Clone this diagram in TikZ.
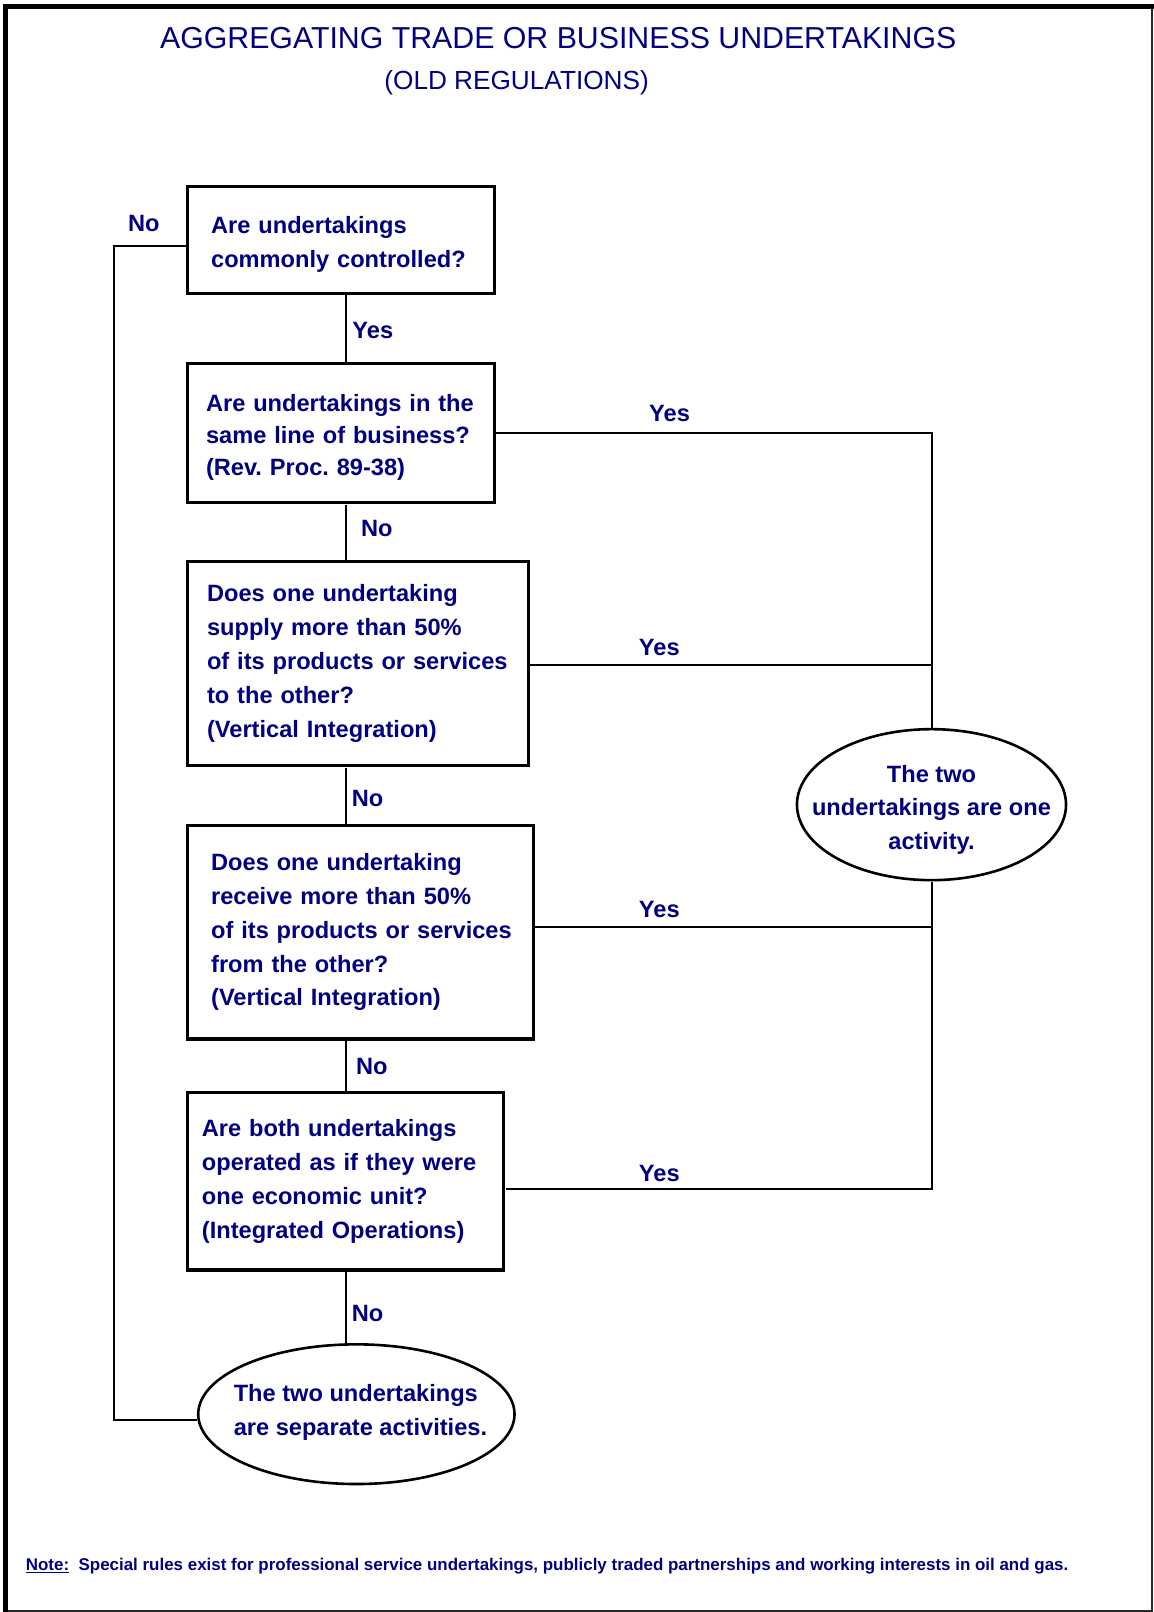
\documentclass[tikz,border=0pt]{standalone}
\usepackage{fontspec}
\setmainfont{Liberation Sans}
\usetikzlibrary{shapes.geometric,calc}
\definecolor{navy}{RGB}{0,0,128}
\frenchspacing
\begin{document}
\begin{tikzpicture}[x=1pt,y=-1pt,scale=1.027,every node/.append style={transform shape},
  qbox/.style={draw,line width=3.2pt,rectangle,anchor=north west,
    font=\bfseries\fontsize{23}{33}\selectfont,text=navy,align=left,inner ysep=0pt},
  ell/.style={draw,line width=2.6pt,ellipse,inner sep=0pt},
  etext/.style={font=\bfseries\fontsize{23}{33}\selectfont,text=navy,inner sep=0pt},
  lbl/.style={font=\bfseries\fontsize{23}{28}\selectfont,text=navy,inner sep=0pt},
  conn/.style={line width=2.2pt}
]
\useasboundingbox (0,0) rectangle (1123.66,1569.62);
\fill[white] (0,0) rectangle (1123.66,1569.62);
\draw[line width=1.6pt,black!85] (5.8,6.8) rectangle (1121.7,1568.6);
\draw[line width=5pt,line cap=rect] (5.8,1568.6) -- (5.8,6.8) -- (1121.7,6.8);

\node[font=\fontsize{29.5}{33}\selectfont,text=navy,inner sep=0pt] (title) at (543.5,37) {AGGREGATING TRADE OR BUSINESS UNDERTAKINGS};
\node[font=\fontsize{25.5}{30}\selectfont,text=navy,inner sep=0pt] (subtitle) at (503,81) {(OLD REGULATIONS)};

\coordinate (spine) at (337,0);
\coordinate (leftcol) at (111,0);

\node[qbox,minimum width=299pt,minimum height=104pt,text width=253pt,inner xsep=23pt] (b1) at (181,180)
  {\rule{0pt}{25pt}Are undertakings\\commonly controlled?};
\node[qbox,minimum width=299pt,minimum height=136pt,text width=263pt,inner xsep=18pt,font=\bfseries\fontsize{23}{31}\selectfont] (b2) at (181,352)
  {\rule{0pt}{25pt}Are undertakings in the\\same line of business?\\(Rev.\ Proc.\ 89-38)};
\node[qbox,minimum width=332pt,minimum height=199pt,text width=294pt,inner xsep=19pt] (b3) at (181,545)
  {Does one undertaking\\supply more than 50\%\\\mbox{of its products or services}\\to the other?\\(Vertical Integration)};
\node[qbox,minimum width=337pt,minimum height=208pt,text width=291pt,inner xsep=23pt] (b4) at (181,802)
  {Does one undertaking\\receive more than 50\%\\\mbox{of its products or services}\\from the other?\\(Vertical Integration)};
\node[qbox,minimum width=308pt,minimum height=173pt,text width=280pt,inner xsep=14pt] (b5) at (181,1062)
  {Are both undertakings\\operated as if they were\\one economic unit?\\(Integrated Operations)};

\node[ell,minimum width=262pt,minimum height=147pt] (e1) at (907,783.5) {};
\node[etext,align=center] (e1t) at (907,788.5) {The two\\undertakings are one\\activity.};
\node[ell,minimum width=308pt,minimum height=136pt] (e2) at (347,1377) {};
\node[etext,align=left] (e2t) at (351,1375) {The two undertakings\\are separate activities.};

% spine connectors
\draw[conn] (b1.south -| spine) -- (b2.north -| spine);
\draw[conn] (b2.south -| spine) -- (b3.north -| spine);
\draw[conn] (b3.south -| spine) -- (b4.north -| spine);
\draw[conn] (b4.south -| spine) -- (b5.north -| spine);
\draw[conn] (b5.south -| spine) -- (e2.north -| spine);

% left No path
\coordinate (nostart) at ([yshift=-6pt]b1.west);
\coordinate (noend) at ([yshift=-5pt]e2.west);
\draw[conn] (nostart) -- (nostart -| leftcol) |- (noend);

% right Yes paths
\draw[conn] (b2.east) -| (e1.north);
\draw[conn] ([yshift=-1.5pt]b3.east) -- ([yshift=-1.5pt]b3.east -| e1.north);
\draw[conn] ([yshift=5pt]b4.east) -- ([yshift=5pt]b4.east -| e1.south);
\draw[conn] (e1.south) |- ([yshift=-7.5pt]b5.east);

% labels
\node[lbl] (l1) at (140,218) {No};
\node[lbl] (l2) at (363,322) {Yes};
\node[lbl] (l3) at (652,403) {Yes};
\node[lbl] (l4) at (367,515) {No};
\node[lbl] (l5) at (642,630) {Yes};
\node[lbl] (l6) at (358,777) {No};
\node[lbl] (l7) at (642,886) {Yes};
\node[lbl] (l8) at (362,1038) {No};
\node[lbl] (l9) at (642,1143) {Yes};
\node[lbl] (l10) at (358,1279) {No};

\node[anchor=west,font=\bfseries\fontsize{16.5}{20}\selectfont,text=navy,inner sep=0pt] (note) at (25,1525)
  {\underline{Note:}\ \ Special rules exist for professional service undertakings, publicly traded partnerships and working interests in oil and gas.};
\end{tikzpicture}
\end{document}
